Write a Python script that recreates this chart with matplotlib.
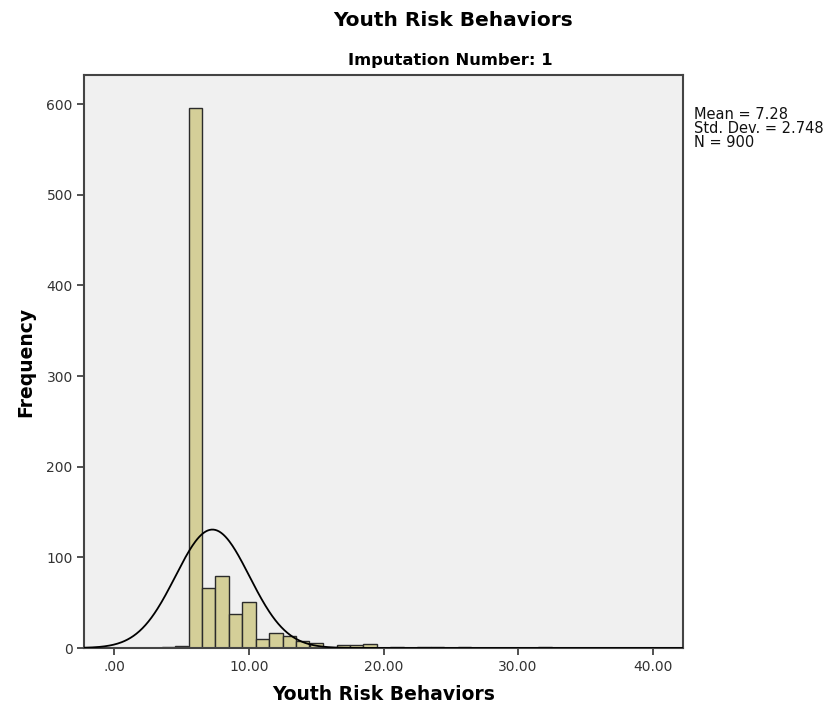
import numpy as np
import matplotlib
matplotlib.use("Agg")
from matplotlib import pyplot as plt
from matplotlib.ticker import FuncFormatter

# histogram counts (bins centred on integers, width 1)
bin_centers = [4, 5, 6, 7, 8, 9, 10, 11, 12, 13, 14, 15, 17, 18, 19, 21, 23, 24, 26, 32]
counts = [1, 2, 596, 66, 79, 38, 51, 10, 16, 13, 8, 5, 3, 3, 4, 1, 1, 1, 1, 1]
mean, sd, n = 7.28, 2.748, 900
x_ticks = [0, 10, 20, 30, 40]
y_ticks = [0, 100, 200, 300, 400, 500, 600]

fig = plt.figure(figsize=(8.3, 7.15), dpi=100)
ax = fig.add_axes([0.1018, 0.0937, 0.7212, 0.8013])
ax.set_facecolor("#f0f0f0")

ax.bar(bin_centers, counts, width=0.99, color="#d4cf98", edgecolor="#2b2b2b", linewidth=1.0, zorder=2)

xs = np.linspace(-2.23, 42.27, 600)
ys = n * 1.0 / (sd * np.sqrt(2 * np.pi)) * np.exp(-0.5 * ((xs - mean) / sd) ** 2)
ax.plot(xs, ys, color="black", linewidth=1.3, zorder=3)

ax.set_xlim(-2.23, 42.27)
ax.set_ylim(0, 632)
ax.set_xticks(x_ticks)
ax.set_yticks(y_ticks)
ax.xaxis.set_major_formatter(FuncFormatter(lambda v, p: ".00" if v == 0 else "%.2f" % v))
ax.tick_params(axis="both", direction="out", length=5, width=1.2, color="#333333",
               labelsize=10, labelcolor="#333333")
for s in ax.spines.values():
    s.set_color("#444444")
    s.set_linewidth(1.5)

ax.set_xlabel("Youth Risk Behaviors", fontsize=13.5, fontweight="bold", labelpad=8)
ax.set_ylabel("Frequency", fontsize=13.5, fontweight="bold", labelpad=8)

fig.text(0.546, 0.972, "Youth Risk Behaviors", ha="center", va="center", fontsize=14.5, fontweight="bold")
fig.text(0.543, 0.916, "Imputation Number: 1", ha="center", va="center", fontsize=11.8, fontweight="bold")
fig.text(0.836, 0.85, "Mean = %.2f\nStd. Dev. = %.3f\nN = %d" % (mean, sd, n),
         ha="left", va="top", fontsize=10.5, linespacing=0.9, color="#111111")

fig.savefig("out.png", dpi=100)
